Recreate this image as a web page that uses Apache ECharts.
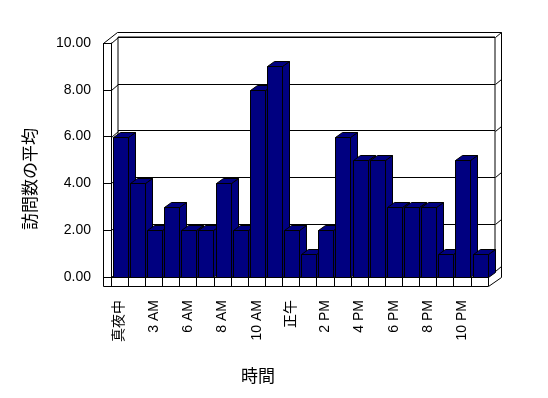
<!DOCTYPE html>
<html>
<head>
<meta charset="utf-8">
<script src="https://cdn.jsdelivr.net/npm/echarts@6/dist/echarts.min.js"></script>
<style>
  html, body { margin: 0; padding: 0; background: #fff; }
  #chart { width: 548px; height: 398px; }
</style>
</head>
<body>
<div id="chart"></div>
<script>
// 時間帯ごとの訪問数の平均
const categories = ["真夜中", "1 AM", "3 AM", "5 AM", "6 AM", "7 AM", "8 AM", "9 AM", "10 AM", "11 AM",
  "正午", "1 PM", "2 PM", "3 PM", "4 PM", "5 PM", "6 PM", "7 PM", "8 PM", "9 PM", "10 PM", "11 PM"];
const visits = [6, 4, 2, 3, 2, 2, 4, 2, 8, 9, 2, 1, 2, 6, 5, 5, 3, 3, 3, 1, 5, 1];
const yTicks = [0, 2, 4, 6, 8, 10];

const FONT = "'Liberation Sans', 'Noto Sans CJK JP', sans-serif";
const lineStyle = { stroke: "#000", lineWidth: 1, fill: null };
const px = (v) => Math.round(v) + 0.5;

function line(x1, y1, x2, y2) {
  return { type: "line", shape: { x1: px(x1), y1: px(y1), x2: px(x2), y2: px(y2) }, style: lineStyle };
}

// 枠（壁と床）
function renderFrame(params, api) {
  const band = api.size([1, 0])[0];
  const c0 = api.coord([0, 0]);
  const L = c0[0] - band / 2;
  const B = c0[1];
  const R = L + band * categories.length;
  const T = api.coord([0, 10])[1];
  const children = [
    line(L - 8, T, L - 8, B + 9),
    line(L - 8, B + 9, R, B + 9),
    line(R, B + 9, R + 13, B),
    line(R + 13, B, R + 13, T - 11),
    line(R + 13, T - 11, L + 6, T - 11),
    line(L + 6, T - 11, L - 8, T),
  ];
  yTicks.forEach((v) => {
    const y = api.coord([0, v])[1];
    children.push(line(L, y, L + 7, y - 6));
    children.push(line(R + 7, y - 6, R + 13, y - 11));
  });
  return { type: "group", children: children };
}

// 立体の棒
function renderBar(params, api) {
  const i = api.value(0);
  const v = api.value(1);
  const band = api.size([1, 0])[0];
  const base = api.coord([i, 0]);
  const top = api.coord([i, v]);
  const x0 = Math.round(base[0] - band / 2 + band * 0.1) + 0.5;
  const w = Math.round(band * 0.875);
  const yb = Math.round(base[1]) + 0.5;
  const yt = Math.round(top[1]) + 0.5;
  const dx = 7, dy = -5;
  const st = { fill: "#000080", stroke: "#000", lineWidth: 1 };
  return {
    type: "group",
    children: [
      { type: "polygon", shape: { points: [[x0 + w, yt], [x0 + w + dx, yt + dy], [x0 + w + dx, yb + dy], [x0 + w, yb]] }, style: st },
      { type: "polygon", shape: { points: [[x0, yt], [x0 + dx, yt + dy], [x0 + w + dx, yt + dy], [x0 + w, yt]] }, style: st },
      { type: "rect", shape: { x: x0, y: yt, width: w, height: yb - yt }, style: st },
    ],
  };
}

let chart = echarts.init(document.getElementById("chart"), null, { renderer: "canvas" });
let option = {
  backgroundColor: "#fff",
  animation: false,
  grid: [
    { left: 111, right: 60, top: 43, bottom: 121 },
    { left: 118, right: 53, top: 37, bottom: 127, show: true, borderColor: "#000", borderWidth: 1, backgroundColor: "transparent" },
  ],
  xAxis: [
    {
      type: "category",
      gridIndex: 0,
      data: categories,
      axisLine: { lineStyle: { color: "#000", width: 1 } },
      axisTick: { show: true, length: 9, interval: 0, lineStyle: { color: "#000" } },
      axisLabel: { interval: 1, rotate: 90, margin: 23, color: "#000", fontSize: 14, fontFamily: FONT },
      splitLine: { show: false },
    },
    { type: "category", gridIndex: 1, data: categories, show: false },
  ],
  yAxis: [
    {
      type: "value",
      gridIndex: 0,
      min: 0,
      max: 10,
      interval: 2,
      axisLine: { show: true, lineStyle: { color: "#000", width: 1 } },
      axisTick: { show: true, length: 8, lineStyle: { color: "#000" } },
      axisLabel: { margin: 20, color: "#000", fontSize: 14, fontFamily: FONT, formatter: (v) => v.toFixed(2) },
      splitLine: { show: false },
    },
    {
      type: "value",
      gridIndex: 1,
      min: 0,
      max: 10,
      interval: 2,
      axisLine: { show: false },
      axisTick: { show: false },
      axisLabel: { show: false },
      splitLine: { show: true, lineStyle: { color: "#000", width: 1 } },
    },
  ],
  graphic: [
    {
      type: "text",
      x: 30,
      y: 179,
      rotation: Math.PI / 2,
      style: { text: "訪問数の平均", fill: "#000", font: "17px 'Noto Sans CJK JP'", align: "center", verticalAlign: "middle" },
    },
    {
      type: "text",
      x: 258,
      y: 376,
      style: { text: "時間", fill: "#000", font: "17px 'Noto Sans CJK JP'", align: "center", verticalAlign: "middle" },
    },
  ],
  series: [
    {
      name: "frame",
      type: "custom",
      xAxisIndex: 0,
      yAxisIndex: 0,
      z: 1,
      silent: true,
      renderItem: renderFrame,
      data: [[0, 0]],
    },
    {
      name: "訪問数の平均",
      type: "custom",
      xAxisIndex: 0,
      yAxisIndex: 0,
      z: 2,
      renderItem: renderBar,
      data: visits.map((v, i) => [i, v]),
    },
  ],
};
chart.setOption(option);
window.addEventListener("resize", () => {
  chart.resize();
});
</script>
</body>
</html>
